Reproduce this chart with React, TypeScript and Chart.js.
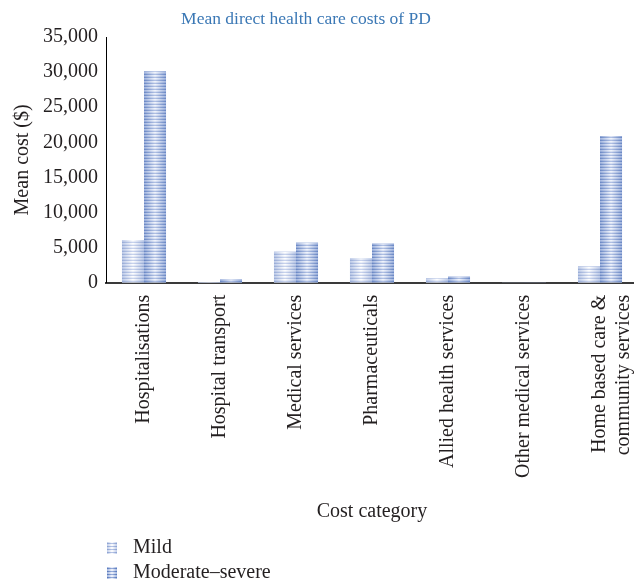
import { useEffect, useRef } from 'react';
import { Chart, registerables } from 'chart.js';

Chart.register(...registerables);

const chartTitle = 'Mean direct health care costs of PD';
const categories: (string | string[])[] = [
  'Hospitalisations',
  'Hospital transport',
  'Medical services',
  'Pharmaceuticals',
  'Allied health services',
  'Other medical services',
  ['Home based care &', 'community services'],
];
const seriesNames = ['Mild', 'Moderate–severe'];
const mildCosts = [6100, 100, 4400, 3500, 600, 20, 2300];
const moderateSevereCosts = [30100, 500, 5700, 5600, 900, 40, 20900];
const yMin = 0;
const yMax = 35000;
const yStep = 5000;
const yAxisTitle = 'Mean cost ($)';
const xAxisTitle = 'Cost category';

const FONT = "'Liberation Serif', 'Times New Roman', serif";
const TEXT = '#231f20';

type Tex = { edge: string; mid: string; stripeEdge: string; stripeMid: string };
const textures: Tex[] = [
  { edge: '#bfcce9', mid: '#ffffff', stripeEdge: '#8aa0d0', stripeMid: '#b8c6e7' },
  { edge: '#a3b6df', mid: '#f2f5fc', stripeEdge: '#5577bb', stripeMid: '#9cb0dc' },
];

function paintTexture(
  ctx: CanvasRenderingContext2D,
  left: number,
  top: number,
  width: number,
  height: number,
  base: number,
  t: Tex
) {
  ctx.save();
  ctx.beginPath();
  ctx.rect(left, top, width, height);
  ctx.clip();
  const g = ctx.createLinearGradient(left, 0, left + width, 0);
  g.addColorStop(0, t.edge);
  g.addColorStop(0.5, t.mid);
  g.addColorStop(1, t.edge);
  ctx.fillStyle = g;
  ctx.fillRect(left, top, width, height);
  const s = ctx.createLinearGradient(left, 0, left + width, 0);
  s.addColorStop(0, t.stripeEdge);
  s.addColorStop(0.5, t.stripeMid);
  s.addColorStop(1, t.stripeEdge);
  ctx.fillStyle = s;
  for (let yy = base - 2; yy > top - 2; yy -= 3) {
    ctx.fillRect(left, yy, width, 1);
  }
  ctx.restore();
}

const barTexturePlugin = {
  id: 'barTexture',
  afterDatasetDraw(chart: any, args: any) {
    const t = textures[args.index % textures.length];
    const ctx = chart.ctx as CanvasRenderingContext2D;
    const area = chart.chartArea;
    ctx.save();
    ctx.beginPath();
    ctx.rect(area.left, area.top, area.right - area.left, area.bottom - area.top);
    ctx.clip();
    args.meta.data.forEach((el: any) => {
      const { x, y, base, width } = el.getProps(['x', 'y', 'base', 'width'], true);
      const left = x - width / 2;
      const top = Math.min(y, base);
      const h = Math.abs(base - y);
      if (h <= 0.2) return;
      paintTexture(ctx, left, top, width, h, Math.max(y, base), t);
    });
    ctx.restore();
  },
};

function makeSwatch(t: Tex): HTMLCanvasElement {
  const c = document.createElement('canvas');
  c.width = 20;
  c.height = 12;
  const ctx = c.getContext('2d')!;
  paintTexture(ctx, 0, 0, 10, 12, 12, t);
  return c;
}

export default function App() {
  const ref = useRef<HTMLCanvasElement>(null);

  useEffect(() => {
    if (!ref.current) return;
    const swatches = textures.map(makeSwatch);
    const chart = new Chart(ref.current, {
      type: 'bar',
      data: {
        labels: categories as any,
        datasets: [
          {
            label: seriesNames[0],
            data: mildCosts,
            backgroundColor: textures[0].edge,
            borderWidth: 0,
            categoryPercentage: 0.58,
            barPercentage: 1,
          },
          {
            label: seriesNames[1],
            data: moderateSevereCosts,
            backgroundColor: textures[1].edge,
            borderWidth: 0,
            categoryPercentage: 0.58,
            barPercentage: 1,
          },
        ],
      },
      options: {
        responsive: false,
        animation: false,
        devicePixelRatio: 1,
        layout: { padding: { left: -56, right: 0, top: 0, bottom: 0 } },
        plugins: {
          title: {
            display: true,
            text: chartTitle,
            color: '#3b78b5',
            font: { family: FONT, size: 17.5, weight: 'normal' },
            padding: { top: 1, bottom: 7 },
          },
          tooltip: { enabled: false },
          legend: {
            position: 'bottom',
            align: 'start',
            fullSize: false,
            labels: {
              usePointStyle: true,
              boxWidth: 12,
              padding: 5,
              color: TEXT,
              font: { family: FONT, size: 20 },
              generateLabels: (c: any) => {
                const items = (Chart.defaults.plugins.legend.labels as any).generateLabels(c);
                return items.map((it: any, i: number) => ({
                  ...it,
                  text: i < items.length - 1 ? it.text + '\u00A0'.repeat(110) : it.text,
                  pointStyle: swatches[i],
                  fontColor: TEXT,
                }));
              },
            },
          },
        },
        scales: {
          x: {
            grid: { display: false, drawTicks: false },
            border: { display: true, color: '#3a3a3a', width: 2 },
            ticks: {
              color: TEXT,
              font: { family: FONT, size: 20 },
              minRotation: 90,
              maxRotation: 90,
              autoSkip: false,
              padding: 12,
            },
            title: {
              display: true,
              text: xAxisTitle,
              color: TEXT,
              font: { family: FONT, size: 20 },
              padding: { top: 10, bottom: 9 },
            },
          },
          y: {
            min: yMin,
            max: yMax,
            grid: { display: false, drawTicks: false },
            border: { display: true, color: '#000000', width: 1 },
            ticks: {
              stepSize: yStep,
              color: TEXT,
              font: { family: FONT, size: 20 },
              padding: 8,
            },
            title: {
              display: true,
              text: yAxisTitle,
              color: TEXT,
              font: { family: FONT, size: 20 },
              padding: { top: 59, bottom: 0 },
            },
          },
        },
      },
      plugins: [barTexturePlugin],
    });
    return () => chart.destroy();
  }, []);

  return (
    <div
      style={{
        position: 'absolute',
        left: 8,
        top: 8,
        width: 626,
        height: 575,
        overflow: 'hidden',
      }}
    >
      <canvas ref={ref} width={652} height={585} style={{ display: 'block' }} />
    </div>
  );
}
